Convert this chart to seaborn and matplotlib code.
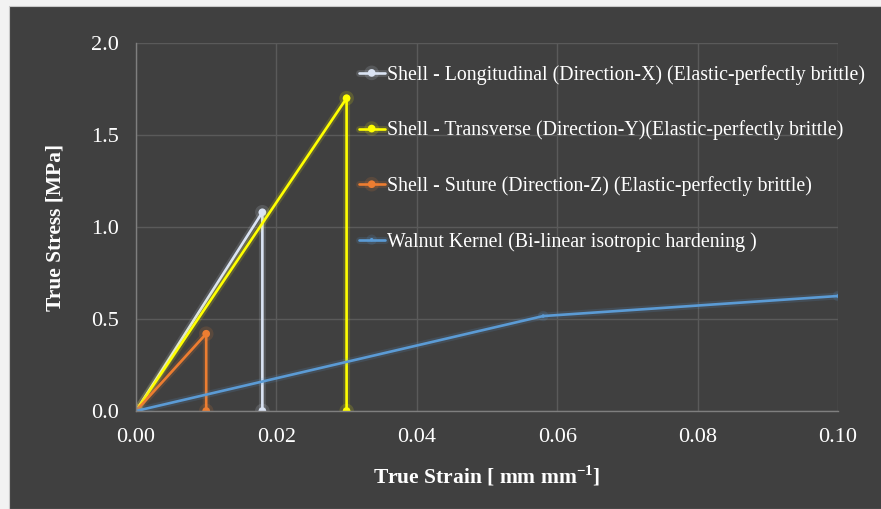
import numpy as np
import pandas as pd
import matplotlib
matplotlib.use("Agg")
import matplotlib.pyplot as plt
import matplotlib.patheffects as pe
from matplotlib.patches import Rectangle
import seaborn as sns

# ── 数据 ──────────────────────────────────────────────
long_x = [0.0, 0.018, 0.018]
long_y = [0.0, 1.08, 0.0]
trans_x = [0.0, 0.030, 0.030]
trans_y = [0.0, 1.70, 0.0]
sut_x = [0.0, 0.010, 0.010]
sut_y = [0.0, 0.42, 0.0]
kern_x = [0.0, 0.058, 0.10]
kern_y = [0.0, 0.516, 0.625]

labels = [
    "Shell - Longitudinal (Direction-X) (Elastic-perfectly brittle)",
    "Shell - Transverse (Direction-Y)(Elastic-perfectly brittle)",
    "Shell - Suture (Direction-Z) (Elastic-perfectly brittle)",
    "Walnut Kernel (Bi-linear isotropic hardening )",
]
colors = ["#dae3f3", "#ffff00", "#ed7d31", "#5b9bd5"]

BG = "#404040"
sns.set_theme(style="dark")
plt.rcParams.update({
    "font.family": ["Liberation Serif", "DejaVu Serif"],
    "mathtext.fontset": "custom",
    "mathtext.rm": "Liberation Serif",
    "mathtext.bf": "Liberation Serif:bold",
    "axes.facecolor": BG,
})

fig = plt.figure(figsize=(8.81, 5.09), dpi=100, facecolor="#f2f2f2")
fig.patches.append(Rectangle((9 / 881, 0), 1, 503 / 509, transform=fig.transFigure,
                             facecolor=BG, edgecolor="#c8c8c8", linewidth=0.8,
                             zorder=-5))
ax = fig.add_axes([136 / 881, 98 / 509, 702 / 881, 368 / 509])
ax.set_zorder(2)

series = [(long_x, long_y), (trans_x, trans_y), (sut_x, sut_y), (kern_x, kern_y)]
msizes = [5.5, 5.5, 5.5, 2.5]
for (xs, ys), lab, c, ms in zip(series, labels, colors, msizes):
    df = pd.DataFrame({"x": xs, "y": ys})
    sns.lineplot(data=df, x="x", y="y", sort=False, estimator=None, ax=ax,
                 color=c, linewidth=1.9, marker="o", markersize=ms,
                 markeredgewidth=0, label=lab,
                 path_effects=[pe.Stroke(linewidth=5, foreground=c, alpha=0.15),
                               pe.Normal()])

ax.set_xlim(0, 0.10)
ax.set_ylim(0, 2.0)
ax.set_xticks(np.arange(0, 0.101, 0.02))
ax.set_yticks(np.arange(0, 2.01, 0.5))
ax.set_xticklabels([f"{v:.2f}" for v in np.arange(0, 0.101, 0.02)])
ax.set_yticklabels([f"{v:.1f}" for v in np.arange(0, 2.01, 0.5)])
ax.grid(True, color="#5a5a5a", linewidth=1)
ax.tick_params(colors="white", labelsize=16, length=0, pad=12)
for s in ["top", "right"]:
    ax.spines[s].set_visible(False)
for s in ["left", "bottom"]:
    ax.spines[s].set_color("#7f7f7f")
    ax.spines[s].set_linewidth(1)

ax.set_xlabel(r"True Strain [ mm mm$^{\mathbf{-1}}$]", color="white",
              fontsize=15.5, fontweight="bold", labelpad=12)
ax.set_ylabel("True Stress [MPa]", color="white", fontsize=15.5,
              fontweight="bold", labelpad=19)

leg = ax.legend(loc="upper left", bbox_to_anchor=(0.306, 0.962), frameon=False,
                fontsize=14.3, labelspacing=1.8, handlelength=1.3,
                handletextpad=0.1, borderaxespad=0)
for t in leg.get_texts():
    t.set_color("white")

fig.savefig("out.png", dpi=100, facecolor=fig.get_facecolor())
